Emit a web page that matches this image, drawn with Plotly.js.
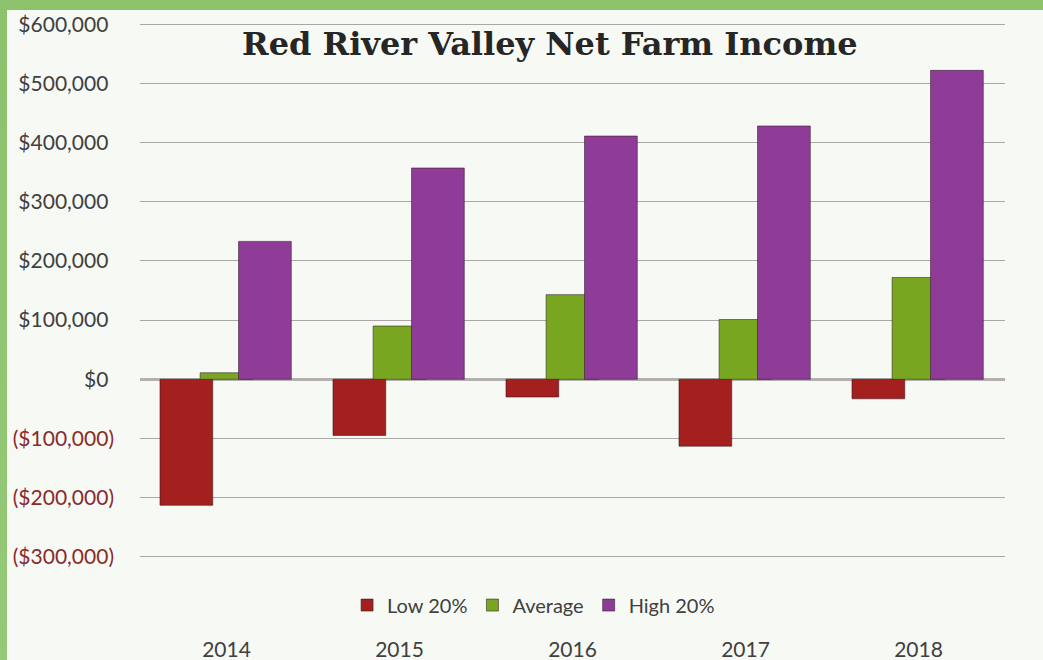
<!DOCTYPE html>
<html>
<head>
<meta charset="utf-8">
<script src="https://cdn.plot.ly/plotly-3.0.1.min.js"></script>
<style>
  html, body { margin: 0; padding: 0; width: 1043px; height: 660px; overflow: hidden; background: #8fc36f; }
  #frame { position: absolute; left: 0; top: 0; width: 1043px; height: 660px;
           background: linear-gradient(#8cc26c, #95c878); }
  #chart { position: absolute; left: 7px; top: 10px; width: 1036px; height: 650px; }
</style>
</head>
<body>
<div id="frame"></div>
<div id="chart"></div>
<script>
// ---- data ----
var years = ["2014", "2015", "2016", "2017", "2018"];
var low20 = [-213000, -95000, -30000, -113000, -33000];
var average = [11000, 90000, 143000, 101000, 172000];
var high20 = [233000, 357000, 411000, 428000, 522000];
var seriesNames = ["Low 20%", "Average", "High 20%"];
var yTickVals = [600000, 500000, 400000, 300000, 200000, 100000, 0, -100000, -200000, -300000];
var yTickText = ["$600,000", "$500,000", "$400,000", "$300,000", "$200,000", "$100,000", "$0",
                 "($100,000)", "($200,000)", "($300,000)"];
var chartTitle = "Red River Valley Net Farm Income";

// ---- styling ----
var colors = ["#a3201f", "#78a620", "#8e3c97"];
var barWidth = 0.305;
var centers = [-0.232, 0.0, 0.222];
var textGray = "#404040";
var negRed = "#8a2b2b";

var ticktext = yTickText.map(function (t, i) {
  return yTickVals[i] < 0
    ? '<span style="color:' + negRed + '">' + t + '</span>'
    : t + '<span style="color:rgba(0,0,0,0)">)</span>';
});

var seriesData = [low20, average, high20];
var traces = seriesData.map(function (vals, i) {
  return {
    type: "bar",
    name: seriesNames[i],
    x: years,
    y: vals,
    width: years.map(function () { return barWidth; }),
    offset: centers[i] - barWidth / 2,
    marker: { color: colors[i], line: { color: "rgba(50,25,40,0.55)", width: 1 } },
    hoverinfo: "x+y+name"
  };
});

var layout = {
  width: 1036,
  height: 650,
  paper_bgcolor: "#f7f9f4",
  plot_bgcolor: "rgba(0,0,0,0)",
  margin: { l: 133, r: 38, t: 13, b: 102 },
  barmode: "overlay",
  font: { family: "Lato, 'Open Sans', sans-serif", size: 20, color: textGray },
  title: {
    text: chartTitle,
    font: { family: "'DejaVu Serif', serif", size: 32, color: "#262626", weight: "bold" },
    x: 0.524, xanchor: "center",
    y: 0.948, yanchor: "middle"
  },
  xaxis: {
    type: "category",
    range: [-0.5, 4.5],
    showgrid: false,
    showline: false,
    zeroline: false,
    ticks: "",
    ticklabelstandoff: 77,
    tickfont: { size: 21, color: textGray }
  },
  yaxis: {
    range: [-302000, 602000],
    tickvals: yTickVals,
    ticktext: ticktext,
    showgrid: true,
    gridcolor: "#aaa7a5",
    gridwidth: 1,
    zeroline: true,
    zerolinecolor: "#b3b0ae",
    zerolinewidth: 3,
    showline: false,
    ticks: "",
    ticklabelstandoff: 25,
    tickfont: { size: 21, color: textGray }
  },
  showlegend: true,
  legend: {
    orientation: "h",
    x: 0.455, xanchor: "center",
    y: -0.088, yanchor: "middle",
    font: { size: 20, color: textGray },
    bgcolor: "rgba(0,0,0,0)",
    itemwidth: 30,
    traceorder: "normal"
  }
};

Plotly.newPlot("chart", traces, layout, { displayModeBar: false, staticPlot: true });
</script>
</body>
</html>
